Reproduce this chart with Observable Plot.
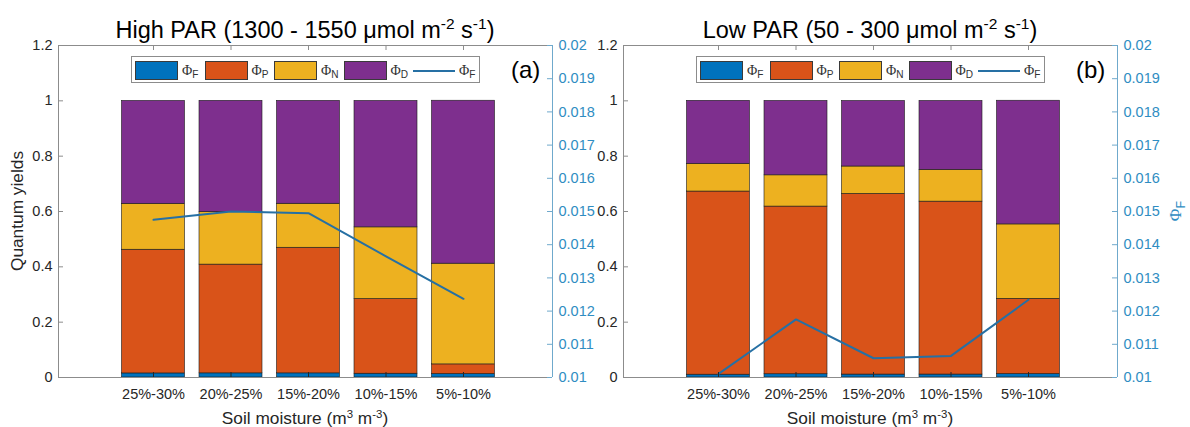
<!DOCTYPE html>
<html>
<head>
<meta charset="utf-8">
<script src="https://cdn.jsdelivr.net/npm/d3@7"></script>
<script src="https://cdn.jsdelivr.net/npm/@observablehq/plot@0.6"></script>
<style>
  html, body { margin: 0; padding: 0; background: #fff; }
  #fig { position: relative; width: 1190px; height: 427px; overflow: hidden;
         font-family: "Liberation Sans", Arial, sans-serif; color: #262626; }
  .panel { position: absolute; top: 0; }
  .panel svg { overflow: visible; display: block; }
  .title { position: absolute; top: 19px; font-size: 23.5px; line-height: 1; white-space: nowrap;
           color: #000; transform: translateX(-50%); }
  .xlab { position: absolute; top: 410px; font-size: 17.3px; line-height: 1; white-space: nowrap;
          transform: translateX(-50%); }
  .ylab { position: absolute; font-size: 17.3px; line-height: 1; white-space: nowrap;
          transform: translate(-50%, -50%) rotate(-90deg); }
  .tag { position: absolute; top: 58px; font-size: 24px; line-height: 1; color: #000; }
  sup { font-size: 0.66em; vertical-align: 0.55em; line-height: 0; }
  .phi { font-family: "Liberation Serif", "DejaVu Serif", serif; }
  .phi sub { font-family: "Liberation Sans", Arial, sans-serif; font-size: 0.72em; vertical-align: -0.3em; line-height: 0; }
  .legend { position: absolute; top: 56px; width: 349px; height: 27px; box-sizing: border-box;
            border: 1px solid #8c8c8c; background: #fff; }
  .legend .item { position: absolute; top: 4px; height: 19px; display: flex; align-items: center; }
  .legend .patch { width: 43px; height: 19px; box-sizing: border-box; border: 1px solid #3a3a3a; }
  .legend .stroke { width: 42px; height: 2px; }
  .legend .lab { margin-left: 4px; font-size: 14px; color: #333; }
</style>
</head>
<body>
<div id="fig"></div>
<script>
// Soil moisture classes (x categories)
const moistureBins = ["25%-30%", "20%-25%", "15%-20%", "10%-15%", "5%-10%"];
// Quantum yield components, stacked bottom to top
const components = ["F", "P", "N", "D"];
const componentColors = ["#0072BD", "#D95319", "#EDB120", "#7E2F8E"];

// High PAR (1300 - 1550 µmol m-2 s-1)
const highPhiF = [0.01475, 0.0150, 0.01495, 0.01365, 0.01237];
const highPhiP = [0.447, 0.393, 0.454, 0.270, 0.035];
const highPhiN = [0.166, 0.190, 0.159, 0.259, 0.364];
const highPhiD = [0.372, 0.402, 0.372, 0.457, 0.589];

// Low PAR (50 - 300 µmol m-2 s-1)
const lowPhiF = [0.01011, 0.01175, 0.01058, 0.01065, 0.01234];
const lowPhiP = [0.662, 0.606, 0.653, 0.625, 0.272];
const lowPhiN = [0.100, 0.113, 0.099, 0.115, 0.269];
const lowPhiD = [0.228, 0.269, 0.237, 0.249, 0.447];

// Axis ticks
const leftTicks = [0, 0.2, 0.4, 0.6, 0.8, 1, 1.2];
const rightTicks = [0.01, 0.011, 0.012, 0.013, 0.014, 0.015, 0.016, 0.017, 0.018, 0.019, 0.02];

// Right-hand ΦF axis expressed on the left quantum-yield scale
const phiScale = d3.scaleLinear().domain([0.01, 0.02]).range([0, 1.2]);

const W = 595, H = 427, MT = 45, MB = 50, FW = 494, FH = H - MT - MB;
const xMin = 1 - 95 / 77.5, xMax = 5 + 89 / 77.5, halfBar = 31.5 / 77.5;
const positions = moistureBins.map((_, i) => i + 1);
const gray = "#8c8c8c", axisBlue = "#6fa9cc", textBlue = "#2f8dc2", lineBlue = "#2670a4";
const fmt = d3.format("~g"), fmt3 = d3.format(".3~f");

function stackRows(series) {
  const rows = [];
  moistureBins.forEach((bin, i) => {
    let base = 0;
    components.forEach((c, k) => {
      const v = series[k][i];
      rows.push({bin, pos: i + 1, comp: c, y1: base, y2: base + v});
      base += v;
    });
  });
  return rows;
}

function panelChart(series, marginLeft) {
  const rows = stackRows(series);
  const linePts = moistureBins.map((bin, i) => ({pos: i + 1, v: series[0][i]}));
  return Plot.plot({
    width: W, height: H,
    marginLeft, marginRight: W - marginLeft - FW, marginTop: MT, marginBottom: MB,
    style: {fontFamily: "Liberation Sans, Arial, sans-serif", fontSize: "14.5px", color: "#262626",
            background: "transparent", overflow: "visible"},
    x: {domain: [xMin, xMax], label: null},
    y: {domain: [0, 1.2], label: null},
    color: {domain: components, range: componentColors},
    marks: [
      Plot.rect(rows, {x1: d => d.pos - halfBar, x2: d => d.pos + halfBar, y1: "y1", y2: "y2",
                       fill: "comp", stroke: "#1a1a1a", strokeWidth: 0.6}),
      Plot.line(linePts, {x: "pos", y: d => phiScale(d.v), stroke: lineBlue, strokeWidth: 2}),
      Plot.ruleY([0, 1.2], {stroke: gray}),
      Plot.ruleX([xMin], {stroke: gray}),
      Plot.ruleX([xMax], {stroke: axisBlue}),
      Plot.ruleX(positions, {insetBottom: FH - 5, stroke: gray}),
      Plot.ruleX(positions, {insetTop: FH - 5, stroke: "#262626"}),
      Plot.ruleY(leftTicks, {insetRight: FW - 5, stroke: gray}),
      Plot.ruleY(rightTicks.map(phiScale), {insetLeft: FW - 5, stroke: axisBlue}),
      Plot.axisX(positions, {tickSize: 0, tickPadding: 11, label: null, fontSize: 14.5,
                             tickFormat: p => moistureBins[p - 1]}),
      Plot.axisY(leftTicks, {anchor: "left", tickSize: 0, tickPadding: 6, label: null, fontSize: 14.5,
                             tickFormat: fmt}),
      Plot.axisY(rightTicks.map(phiScale), {anchor: "right", tickSize: 0, tickPadding: 6, label: null,
                             fontSize: 14.5, color: textBlue, tickFormat: p => fmt3(phiScale.invert(p))})
    ]
  });
}

const fig = document.getElementById("fig");

function addPanel(offset, marginLeft, series, titleHtml, tag, withRightLabel, withLeftLabel) {
  const holder = document.createElement("div");
  holder.className = "panel";
  holder.style.left = offset + "px";
  holder.appendChild(panelChart(series, marginLeft));
  fig.appendChild(holder);

  const frameLeft = offset + marginLeft, center = frameLeft + FW / 2;

  const title = document.createElement("div");
  title.className = "title";
  title.style.left = center + "px";
  title.innerHTML = titleHtml;
  fig.appendChild(title);

  const xlab = document.createElement("div");
  xlab.className = "xlab";
  xlab.style.left = center + "px";
  xlab.innerHTML = "Soil moisture (m<sup>3</sup> m<sup>-3</sup>)";
  fig.appendChild(xlab);

  const t = document.createElement("div");
  t.className = "tag";
  t.style.left = (frameLeft + 453) + "px";
  t.textContent = tag;
  fig.appendChild(t);

  // legend
  const box = document.createElement("div");
  box.className = "legend";
  box.style.left = (frameLeft + 73) + "px";
  components.forEach((c, k) => {
    const item = document.createElement("div");
    item.className = "item";
    item.style.left = (3 + k * 69.5) + "px";
    item.innerHTML = `<span class="patch" style="background:${componentColors[k]}"></span>` +
                     `<span class="lab phi">Φ<sub>${c}</sub></span>`;
    box.appendChild(item);
  });
  const lineItem = document.createElement("div");
  lineItem.className = "item";
  lineItem.style.left = (3 + 4 * 69.5) + "px";
  lineItem.innerHTML = `<span class="stroke" style="background:${lineBlue}"></span>` +
                       `<span class="lab phi">Φ<sub>F</sub></span>`;
  box.appendChild(lineItem);
  fig.appendChild(box);

  if (withLeftLabel) {
    const yl = document.createElement("div");
    yl.className = "ylab";
    yl.style.left = "18px";
    yl.style.top = (MT + FH / 2) + "px";
    yl.textContent = "Quantum yields";
    fig.appendChild(yl);
  }
  if (withRightLabel) {
    const yr = document.createElement("div");
    yr.className = "ylab phi";
    yr.style.left = (frameLeft + FW + 59) + "px";
    yr.style.top = (MT + FH / 2) + "px";
    yr.style.color = textBlue;
    yr.innerHTML = "Φ<sub>F</sub>";
    fig.appendChild(yr);
  }
}

addPanel(0, 58, [highPhiF, highPhiP, highPhiN, highPhiD],
  "High PAR (1300 - 1550 μmol m<sup>-2</sup> s<sup>-1</sup>)", "(a)", false, true);
addPanel(595, 28, [lowPhiF, lowPhiP, lowPhiN, lowPhiD],
  "Low PAR (50 - 300 μmol m<sup>-2</sup> s<sup>-1</sup>)", "(b)", true, false);
</script>
</body>
</html>
